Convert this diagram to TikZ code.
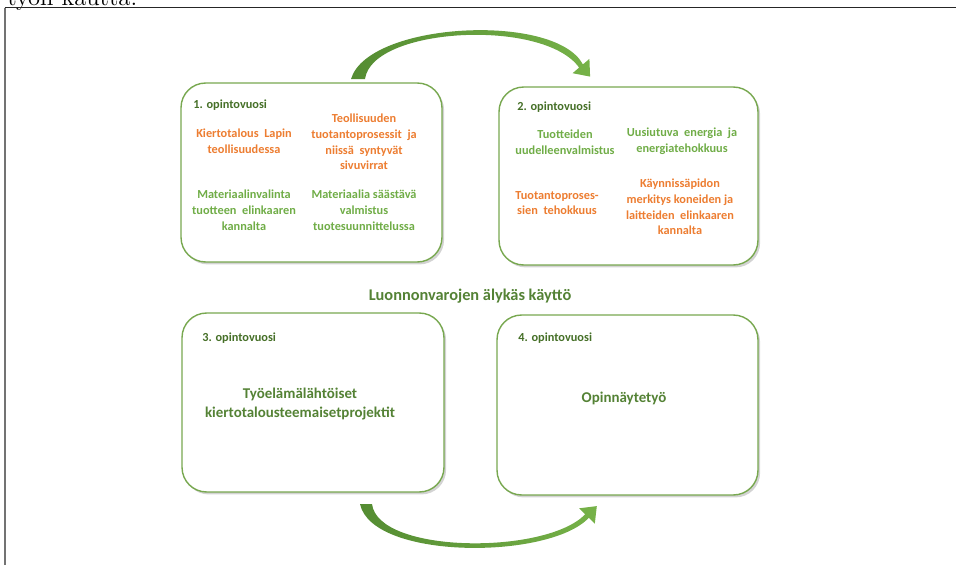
\documentclass[tikz,border=0pt]{standalone}
\usepackage{fontspec}
\newfontfamily\calib{Carlito}
\usetikzlibrary{positioning,shadows}
\definecolor{boxgreen}{RGB}{120,168,80}
\definecolor{headgreen}{RGB}{70,112,40}
\definecolor{txtgreen}{RGB}{112,173,71}
\definecolor{txtorange}{RGB}{237,125,49}
\definecolor{maingreen}{RGB}{84,130,53}
\definecolor{arrowdark}{RGB}{84,140,50}
\definecolor{arrowlight}{RGB}{118,178,72}

\begin{document}
\begin{tikzpicture}[x=0.02cm, y=-0.02cm,
yearbox/.style={rectangle, rounded corners=14pt, draw=boxgreen, line width=0.8pt,
  fill=white, inner sep=0pt,
  drop shadow={shadow xshift=1.2pt, shadow yshift=-1.4pt, opacity=0.35}},
yearhead/.style={anchor=west, inner sep=0pt, text=headgreen,
  font=\calib\bfseries\fontsize{7}{9}\selectfont},
topic/.style={align=center, inner sep=0pt, font=\calib\bfseries\fontsize{7}{9}\selectfont},
org/.style={topic, text=txtorange},
grn/.style={topic, text=txtgreen},
maintext/.style={align=center, inner sep=0pt, text=maingreen,
  font=\calib\bfseries\fontsize{8.5}{10.5}\selectfont},
swing/.style={left color=arrowdark, right color=arrowlight},
frameline/.style={line width=1pt}
]
    \clip (0,0) rectangle (956,565);
    % page frame and the cut caption above it
    \node[anchor=base west, inner sep=0pt, font=\fontsize{14}{16}\selectfont] (cap) at (7,5) {työn kautta.};
    \draw[frameline, draw=black!55] (5,565) -- (5,7.5);
    \draw[frameline, draw=black!85] (4.5,7.5) -- (956,7.5);

    % year boxes
    \node[yearbox, minimum width=5.22cm, minimum height=3.58cm] (y1) at (311.5,172.5) {};
    \node[yearbox, minimum width=5.18cm, minimum height=3.56cm] (y2) at (628.5,176) {};
    \node[yearbox, minimum width=5.24cm, minimum height=3.58cm] (y3) at (313,402.5) {};
    \node[yearbox, minimum width=5.22cm, minimum height=3.6cm] (y4) at (627.5,405) {};

    \node[yearhead] (h1) at (193,105) {1. opintovuosi};
    \node[yearhead] (h2) at (517,107) {2. opintovuosi};
    \node[yearhead] (h3) at (202,338) {3. opintovuosi};
    \node[yearhead] (h4) at (518,338) {4. opintovuosi};

    % 1. year
    \node[org] (k1) at (244,141) {Kiertotalous\ \ Lapin\\teollisuudessa};
    \node[org] (k2) at (364,142) {Teollisuuden\\tuotantoprosessit\ \ ja\\niissä\ \ syntyvät\\sivuvirrat};
    \node[grn] (k3) at (244,210) {Materiaalinvalinta\\tuotteen\ \ elinkaaren\\kannalta};
    \node[grn] (k4) at (364,210) {Materiaalia säästävä\\valmistus\\tuotesuunnittelussa};
    % 2. year
    \node[grn] (u1) at (565,142) {Tuotteiden\\uudelleenvalmistus};
    \node[grn] (u2) at (682,141) {Uusiutuva\ \ energia\ \ ja\\energiatehokkuus};
    \node[org] (u3) at (557,203) {Tuotantoproses-\\sien\ \ tehokkuus};
    \node[org] (u4) at (680,207) {Käynnissäpidon\\merkitys koneiden ja\\laitteiden\ \ elinkaaren\\kannalta};
    % 3. and 4. year
    \node[maintext] (p3) at (300,404) {Työelämälähtöiset\\kiertotalousteemaisetprojektit};
    \node[maintext] (p4) at (624,398) {Opinnäytetyö};

    \node[maintext, font=\calib\bfseries\fontsize{9.3}{11}\selectfont] (title) at (470,296) {Luonnonvarojen älykäs käyttö};

    % curved arrows
    \coordinate (a1) at (351,79);
    \coordinate (a2) at (581,66);
    \shade[swing] (a1) .. controls (368,22) and (555,12) .. (582.9,64.4)
      -- (589.4,58.9) -- (590.1,76.6) -- (572.6,73.2) -- (579.1,67.6)
      .. controls (544,18) and (372,27) .. (365,79) -- cycle;
    \coordinate (b1) at (360,504);
    \coordinate (b2) at (587,516);
    \shade[swing] (b1) .. controls (372,560) and (549,560) .. (588.8,517.8)
      -- (594.8,523.7) -- (596.8,506.1) -- (579.2,508.3) -- (585.2,514.3)
      .. controls (546,555) and (378,554) .. (372,504) -- cycle;
\end{tikzpicture}
\end{document}
